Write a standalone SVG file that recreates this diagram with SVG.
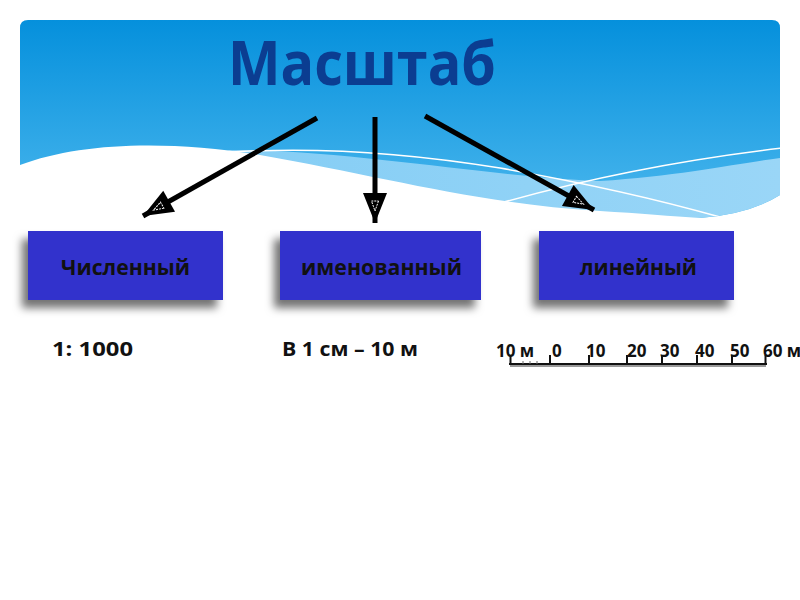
<svg xmlns="http://www.w3.org/2000/svg" width="800" height="600" viewBox="0 0 800 600">
<style>
.lbl{font-family:"Open Sans","Noto Sans",sans-serif;font-weight:bold;fill:#111}
.box{fill:#3333cc}
.conn{stroke:#000;stroke-width:5;fill:none}
.tick{stroke:#111;stroke-width:2}
</style>
<defs>
<linearGradient id="sky" x1="0" y1="0" x2="0" y2="1">
<stop offset="0" stop-color="#0590dc"/>
<stop offset="1" stop-color="#4cb8ee"/>
</linearGradient>
<linearGradient id="band" x1="0" y1="0" x2="1" y2="0">
<stop offset="0" stop-color="#7ccaf4"/>
<stop offset="1" stop-color="#9ad6f7"/>
</linearGradient>
<clipPath id="panel">
<path d="M28,20 H772 Q780,20 780,28 V195 Q750,214 700,218 L20,218 V28 Q20,20 28,20 Z"/>
</clipPath>
<filter id="sh" x="-20%" y="-20%" width="140%" height="160%">
<feDropShadow dx="-6" dy="8" stdDeviation="4" flood-color="#000" flood-opacity="0.55"/>
</filter>
<marker id="ah" markerUnits="userSpaceOnUse" markerWidth="36" markerHeight="30" refX="31" refY="13" orient="auto" viewBox="0 0 36 30">
<path d="M1,1 L31,13 L1,25 Z" fill="#000"/>
<path d="M9,9.5 L19,13 L9,16.5 Z" fill="none" stroke="#fff" stroke-width="1" stroke-dasharray="2 1"/>
</marker>
</defs>
<rect width="800" height="600" fill="#fff"/>
<g id="background" clip-path="url(#panel)">
<rect x="20" y="20" width="760" height="200" fill="url(#sky)"/>
<path d="M230,150 C350,150 500,178 600,181 C680,176 740,163 780,158 L780,225 L20,225 Z" fill="url(#band)"/>
<path d="M20,165 C80,142 170,140 260,155 C380,176 480,204 600,211 C650,214 690,218 720,219 L720,230 L20,230 Z" fill="#fff"/>
<path d="M232,152 C330,146 420,155 500,168 C580,182 660,200 720,217" fill="none" stroke="#fff" stroke-width="1.5"/>
<path d="M490,206 C580,180 680,160 782,148" fill="none" stroke="#fff" stroke-width="1.5"/>
</g>
<g id="title">
<text x="228" y="85" textLength="268" lengthAdjust="spacingAndGlyphs" font-family="'Open Sans','Noto Sans',sans-serif" font-weight="bold" font-size="60" fill="#0b3d91">Масштаб</text>
</g>
<g id="connectors">
<line class="conn" x1="317" y1="118" x2="143" y2="216" marker-end="url(#ah)"/>
<line class="conn" x1="375" y1="117" x2="375" y2="223" marker-end="url(#ah)"/>
<line class="conn" x1="425" y1="116" x2="594" y2="210" marker-end="url(#ah)"/>
</g>
<g id="node-chislenny">
<rect class="box" x="28" y="231" width="195" height="69" filter="url(#sh)"/>
<text class="lbl" x="61" y="275" font-size="21" textLength="129" lengthAdjust="spacingAndGlyphs">Численный</text>
</g>
<g id="node-imenovanny">
<rect class="box" x="280" y="231" width="201" height="69" filter="url(#sh)"/>
<text class="lbl" x="301" y="275" font-size="21" textLength="161" lengthAdjust="spacingAndGlyphs">именованный</text>
</g>
<g id="node-lineyny">
<rect class="box" x="539" y="231" width="195" height="69" filter="url(#sh)"/>
<text class="lbl" x="580" y="275" font-size="21" textLength="117" lengthAdjust="spacingAndGlyphs">линейный</text>
</g>
<g id="example-chislenny">
<text class="lbl" x="52" y="356" font-size="20" textLength="81" lengthAdjust="spacingAndGlyphs">1: 1000</text>
</g>
<g id="example-imenovanny">
<text class="lbl" x="282" y="356" font-size="20" textLength="136" lengthAdjust="spacingAndGlyphs">В 1 см – 10 м</text>
</g>
<g id="example-lineyny">
<line x1="510" y1="366" x2="766" y2="366" stroke="#999" stroke-width="2"/>
<line x1="509" y1="364" x2="767" y2="364" stroke="#111" stroke-width="2"/>
<line class="tick" x1="510.5" y1="355" x2="510.5" y2="364"/>
<line class="tick" x1="550" y1="355" x2="550" y2="364"/>
<line class="tick" x1="589" y1="355" x2="589" y2="364"/>
<line class="tick" x1="627" y1="355" x2="627" y2="364"/>
<line class="tick" x1="662" y1="355" x2="662" y2="364"/>
<line class="tick" x1="697" y1="355" x2="697" y2="364"/>
<line class="tick" x1="732" y1="355" x2="732" y2="364"/>
<line class="tick" x1="765.5" y1="355" x2="765.5" y2="364"/>
<line x1="523" y1="361" x2="523" y2="364" stroke="#666" stroke-width="1"/>
<line x1="530" y1="361" x2="530" y2="364" stroke="#666" stroke-width="1"/>
<line x1="537" y1="361" x2="537" y2="364" stroke="#666" stroke-width="1"/>
<text class="lbl" x="496" y="357" font-size="17">10 м</text>
<text class="lbl" x="552" y="357" font-size="17">0</text>
<text class="lbl" x="586" y="357" font-size="17">10</text>
<text class="lbl" x="627" y="357" font-size="17">20</text>
<text class="lbl" x="660" y="357" font-size="17">30</text>
<text class="lbl" x="695" y="357" font-size="17">40</text>
<text class="lbl" x="730" y="357" font-size="17">50</text>
<text class="lbl" x="763" y="357" font-size="17">60 м</text>
</g>
</svg>
